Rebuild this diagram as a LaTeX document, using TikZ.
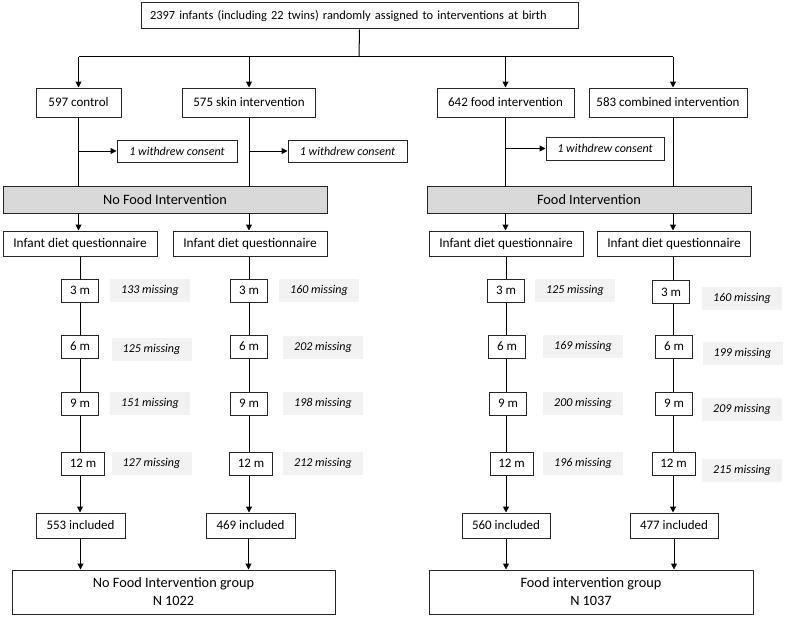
\documentclass[tikz,border=0pt]{standalone}
\usepackage{fontspec}
\setmainfont{Carlito}
\usetikzlibrary{arrows.meta}
\definecolor{bandgray}{RGB}{217,217,217}
\definecolor{missgray}{RGB}{242,242,242}
\tikzset{
  box/.style={draw=black!85,line width=1pt,inner sep=0pt,minimum height=25pt,font=\fontsize{13}{15.5}\selectfont},
  band/.style={box,fill=bandgray,minimum width=324pt,minimum height=27pt,font=\fontsize{14.3}{17}\selectfont},
  withdrew/.style={box,minimum height=22pt,font=\fontsize{12}{14}\selectfont\itshape},
  month/.style={box,minimum width=37pt,minimum height=23pt},
  miss/.style={fill=missgray,inner sep=0pt,minimum width=80pt,minimum height=23pt,font=\fontsize{12}{14}\selectfont\itshape},
  group/.style={box,minimum height=44pt,align=center,font=\fontsize{14.3}{18}\selectfont},
  arr/.style={-{Triangle[length=6pt,width=6pt]}}
}
\begin{document}
\begin{tikzpicture}[x=1pt,y=-1pt,line width=1pt]
\useasboundingbox (0,0) rectangle (787,618);
% assignment
\node[box,font=\fontsize{12.4}{14}\selectfont,inner xsep=9pt,text width=419pt,align=left,minimum height=26pt] (top) at (359.5,16) {2397 infants (including 22 twins) randomly assigned to interventions at birth};
\coordinate (split) at (359,57);
\node[box,minimum width=85pt,minimum height=29pt] (ctrl) at (78.5,102.5) {597 control};
\node[box,minimum width=133pt,minimum height=29pt] (skin) at (249,102.5) {575 skin intervention};
\node[box,minimum width=137pt,minimum height=29pt] (food) at (505.5,102.5) {642 food intervention};
\node[box,minimum width=158pt,minimum height=29pt] (comb) at (668,102.5) {583 combined intervention};
\draw (top.south)--(split);
\draw (split -| ctrl.north)--([xshift=5pt]split -| comb.north);
\foreach \n in {ctrl,skin,food}
  \draw[arr] (split -| \n.north)--(\n.north);
\draw[arr] ([xshift=5pt]split -| comb.north)--([xshift=5pt]comb.north);
% withdrawals
\node[withdrew,minimum width=120pt] (wdA) at (177,151) {1 withdrew consent};
\node[withdrew,minimum width=119pt] (wdB) at (347.5,151) {1 withdrew consent};
\node[withdrew,minimum width=118pt,minimum height=23pt] (wdC) at (605,148.5) {1 withdrew consent};
% intervention bands
\node[band] (nofi) at (165,200) {No Food Intervention};
\node[band] (fi) at (589,200) {Food Intervention};
\draw (ctrl.south)--(ctrl.south |- nofi.north);
\draw (skin.south)--(skin.south |- nofi.north);
\draw (food.south)--(food.south |- fi.north);
\draw ([xshift=5pt]comb.south)--([xshift=5pt]comb.south |- fi.north);
\draw[arr] (ctrl.south |- wdA.west)--(wdA.west);
\draw[arr] (skin.south |- wdB.west)--(wdB.west);
\draw[arr] (food.south |- wdC.west)--(wdC.west);
% questionnaires
\node[box,font=\fontsize{13.3}{16}\selectfont,minimum width=154pt] (idqA) at (80,243.5) {Infant diet questionnaire};
\node[box,font=\fontsize{13.3}{16}\selectfont,minimum width=154pt] (idqB) at (250,243.5) {Infant diet questionnaire};
\node[box,font=\fontsize{13.3}{16}\selectfont,minimum width=154pt] (idqC) at (506,243.5) {Infant diet questionnaire};
\node[box,font=\fontsize{13.3}{16}\selectfont,minimum width=153pt] (idqD) at (674,243.5) {Infant diet questionnaire};
\draw[arr] (nofi.south -| ctrl.south)--(idqA.north -| ctrl.south);
\draw[arr] (nofi.south -| skin.south)--(idqB.north -| skin.south);
\draw[arr] (fi.south -| food.south)--(idqC.north -| food.south);
\draw[arr] ([xshift=5pt]fi.south -| comb.south)--([xshift=5pt]idqD.north -| comb.south);
% follow-up, column A
\node[month] (m3A) at (80,290.5) {3 m};
\node[month] (m6A) at (80,346.5) {6 m};
\node[month] (m9A) at (80,403.5) {9 m};
\node[month,minimum width=43pt] (m12A) at (83,463.5) {12 m};
\node[miss] (x3A) at (150,290.5) {133 missing};
\node[miss] (x6A) at (151.5,349) {125 missing};
\node[miss] (x9A) at (150,403.5) {151 missing};
\node[miss] (x12A) at (151.5,463.5) {127 missing};
% column B
\node[month] (m3B) at (249,290.5) {3 m};
\node[month] (m6B) at (249,346.5) {6 m};
\node[month] (m9B) at (249,403.5) {9 m};
\node[month,minimum width=43pt] (m12B) at (251,463.5) {12 m};
\node[miss] (x3B) at (319,290.5) {160 missing};
\node[miss] (x6B) at (323,347) {202 missing};
\node[miss] (x9B) at (323,403.5) {198 missing};
\node[miss] (x12B) at (323,463.5) {212 missing};
% column C
\node[month] (m3C) at (506,290.5) {3 m};
\node[month] (m6C) at (507,346.5) {6 m};
\node[month] (m9C) at (508,403.5) {9 m};
\node[month,minimum width=43pt] (m12C) at (511.5,463.5) {12 m};
\node[miss] (x3C) at (575,290.5) {125 missing};
\node[miss] (x6C) at (583,346.5) {169 missing};
\node[miss] (x9C) at (583,403) {200 missing};
\node[miss] (x12C) at (583,463.5) {196 missing};
% column D
\node[month] (m3D) at (671,292) {3 m};
\node[month] (m6D) at (674,346.5) {6 m};
\node[month] (m9D) at (674,403.5) {9 m};
\node[month,minimum width=43pt] (m12D) at (673.5,463.5) {12 m};
\node[miss] (x3D) at (742,298.5) {160 missing};
\node[miss] (x6D) at (742.5,353.5) {199 missing};
\node[miss] (x9D) at (742,409.5) {209 missing};
\node[miss] (x12D) at (742,470) {215 missing};
% included
\node[box,minimum width=89pt] (incA) at (80.5,525.5) {553 included};
\node[box,minimum width=89pt] (incB) at (250.5,525.5) {469 included};
\node[box,minimum width=88pt] (incC) at (506,525.5) {560 included};
\node[box,minimum width=88pt] (incD) at (674,525.5) {477 included};
\foreach \c/\x in {A/80,B/249,C/506,D/673}{
  \draw (idq\c.south -| {(\x,0)})--(m3\c.north -| {(\x,0)});
  \draw (m3\c.south -| {(\x,0)})--(m6\c.north -| {(\x,0)});
  \draw (m6\c.south -| {(\x,0)})--(m9\c.north -| {(\x,0)});
  \draw (m9\c.south -| {(\x,0)})--(m12\c.north -| {(\x,0)});
  \draw[arr] (m12\c.south -| {(\x,0)})--(inc\c.north -| {(\x,0)});
}
% groups
\node[group,minimum width=323pt] (grpA) at (173.5,592) {No Food Intervention group\\N 1022};
\node[group,minimum width=324pt] (grpB) at (591,592) {Food intervention group\\N 1037};
\draw[arr] (incA.south)--(incA.south |- grpA.north);
\draw[arr] ([xshift=-2pt]incB.south)--([xshift=-2pt]incB.south |- grpA.north);
\draw[arr] (incC.south)--(incC.south |- grpB.north);
\draw[arr] (incD.south)--(incD.south |- grpB.north);
\end{tikzpicture}
\end{document}
